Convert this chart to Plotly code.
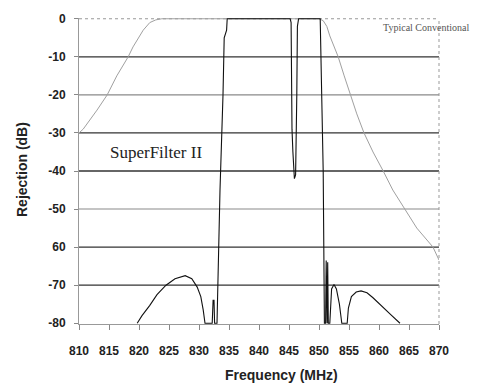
import plotly.graph_objects as go

# ---- data ----
conv_freq = [810, 810.7, 813, 814.7, 816.3, 818.2, 819, 820, 820.7, 821.8, 822.8, 823.8, 825,
             850, 850.7, 851.3, 851.8, 852.5, 853.2, 854.2, 855.2, 856.3, 857.5, 859, 860.7,
             862.3, 864.3, 866.3, 869, 870]
conv_db = [-30, -29, -24, -20, -15, -10, -7.4, -4.8, -3, -1, -0.3, 0, 0,
           0, -0.5, -2, -4.5, -7.3, -10, -15, -20, -25, -30, -35, -40,
           -45, -50, -55, -60, -63.4]

sf_freq = [819.7, 820.5, 821.8, 823, 824.5, 826, 827.7, 828.8, 829.7, 830.3, 830.7, 831.0,
           832.2, 832.35, 832.5, 832.6, 833.0, 833.5, 834.0, 834.2, 834.6, 834.7,
           845.2, 845.35, 845.5, 845.55, 845.5, 845.65, 845.9, 846.1, 846.3, 846.4, 846.6,
           850.2, 850.5, 850.7, 850.9, 851.1, 851.2, 851.35, 851.45, 851.55, 851.8,
           852.1, 852.5, 852.9, 853.4, 853.8, 854.7, 854.9, 855.4, 856.2, 857.0, 858, 859,
           860.7, 862, 863.5]
sf_db = [-80, -78, -75.3, -72.5, -70, -68.3, -67.5, -68.3, -70.5, -73, -76.5, -80,
         -80, -74, -74, -80, -80, -45, -20, -5, -3, 0,
         0, -1, -29, -34.5, -30, -35, -42, -41, -20, -2, 0,
         0, -24, -40, -80, -80, -63.5, -80, -64, -80, -80,
         -71, -69.8, -71, -75, -80, -80, -76, -73, -71.8, -71.5, -72, -73.3,
         -76, -77.8, -80]

x_ticks = [810, 815, 820, 825, 830, 835, 840, 845, 850, 855, 860, 865, 870]
y_ticks = [0, -10, -20, -30, -40, -50, -60, -70, -80]
y_tick_text = ["0", "-10", "-20", "-30", "-40", "-50", "60", "-70", "-80"]

dark_levels = [-10, -30, -40, -60, -70]
light_levels = [-20, -50]

fig = go.Figure()
fig.add_trace(go.Scatter(x=conv_freq, y=conv_db, mode="lines",
                         line=dict(color="#a0a0a0", width=1), hoverinfo="skip"))
fig.add_trace(go.Scatter(x=sf_freq, y=sf_db, mode="lines",
                         line=dict(color="#111111", width=1.1), hoverinfo="skip"))

shapes = []
for lv in dark_levels:
    shapes.append(dict(type="line", xref="paper", yref="y", x0=0, x1=1, y0=lv, y1=lv,
                       line=dict(color="#333333", width=1.3), layer="below"))
for lv in light_levels:
    shapes.append(dict(type="line", xref="paper", yref="y", x0=0, x1=1, y0=lv, y1=lv,
                       line=dict(color="#8a8a8a", width=1.1), layer="below"))
# dotted top and right borders
shapes.append(dict(type="line", xref="paper", yref="y", x0=0, x1=1, y0=0, y1=0,
                   line=dict(color="#999999", width=1, dash="dot"), layer="below"))
shapes.append(dict(type="line", xref="paper", yref="paper", x0=1, x1=1, y0=0, y1=1,
                   line=dict(color="#999999", width=1, dash="dot"), layer="below"))

tickfont = dict(family="Liberation Sans Narrow, Arial Narrow, Liberation Sans, Arial",
                size=12, color="#222222", weight="bold")

fig.update_layout(
    width=484, height=388,
    margin=dict(l=79, r=45, t=18, b=64),
    paper_bgcolor="white", plot_bgcolor="white",
    showlegend=False,
    shapes=shapes,
    xaxis=dict(range=[810, 870], tickvals=x_ticks, ticktext=[str(v) for v in x_ticks],
               showgrid=False, zeroline=False, showline=True, linecolor="#999999", linewidth=1,
               ticks="outside", ticklen=5, tickcolor="#888888", tickfont=tickfont,
               ticklabelstandoff=11),
    yaxis=dict(range=[-80.2, 0.2], tickvals=y_ticks, ticktext=y_tick_text,
               showgrid=False, zeroline=False, showline=True, linecolor="#999999", linewidth=1,
               ticks="outside", ticklen=4, tickcolor="#888888", tickfont=tickfont,
               ticklabelstandoff=6),
    annotations=[
        dict(text="SuperFilter II", xref="paper", yref="paper",
             x=(108 - 79) / 360, y=(323 - 153) / 304, xanchor="left", yanchor="middle",
             showarrow=False, font=dict(family="Liberation Serif, Times New Roman, serif",
                                        size=17, color="#222222")),
        dict(text="Typical Conventional", xref="paper", yref="paper",
             x=(381 - 79) / 360, y=(323 - 28) / 304, xanchor="left", yanchor="middle",
             showarrow=False, font=dict(family="Liberation Serif, Times New Roman, serif",
                                        size=10, color="#555555")),
        dict(text="Frequency (MHz)", xref="paper", yref="paper",
             x=(281 - 79) / 360, y=(323 - 364) / 304, xanchor="center", yanchor="top",
             showarrow=False, font=dict(family="Liberation Sans Narrow, Arial Narrow, Liberation Sans, Arial",
                                        size=14, color="#222222", weight="bold")),
        dict(text="Rejection (dB)", xref="paper", yref="paper", textangle=-90,
             x=(22 - 79) / 360, y=(323 - 170) / 304, xanchor="center", yanchor="middle",
             showarrow=False, font=dict(family="Liberation Sans Narrow, Arial Narrow, Liberation Sans, Arial",
                                        size=14, color="#222222", weight="bold")),
    ],
)

fig.write_html("out.html", config={"displayModeBar": False},
               post_script="document.body.style.margin='0px';document.body.style.padding='0px';")
